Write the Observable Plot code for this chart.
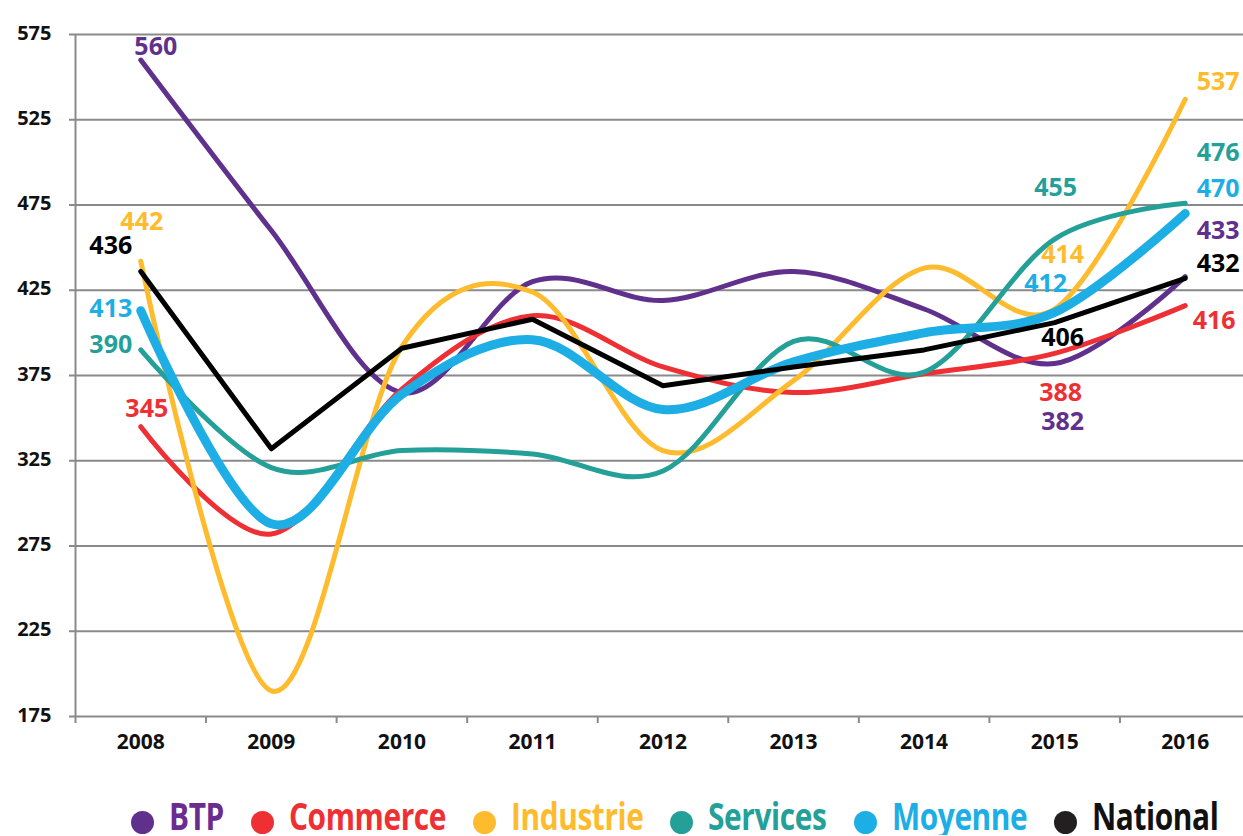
<!DOCTYPE html>
<html>
<head>
<meta charset="utf-8">
<script src="https://cdn.jsdelivr.net/npm/d3@7"></script>
<script src="https://cdn.jsdelivr.net/npm/@observablehq/plot@0.6"></script>
<style>
  html, body { margin: 0; padding: 0; background: #fff; overflow: hidden; }
  #chart svg { display: block; }
  #legend { display: flex; align-items: center; height: 40px; margin-top: 15px; padding-left: 131px;
            font-family: "Open Sans", sans-serif; font-weight: 700; font-size: 38px; line-height: 40px; }
  #legend .item { display: flex; align-items: center; margin-right: 27px; }
  #legend .dot { width: 23px; height: 23px; border-radius: 50%; margin-right: 15px; flex: none; position: relative; top: 7px; }
  #legend .txt { display: inline-block; white-space: nowrap; transform-origin: left center; letter-spacing: -0.5px; line-height: 30px; }
</style>
</head>
<body>
<div id="chart"></div>
<div id="legend"></div>
<script>
const years = [2008, 2009, 2010, 2011, 2012, 2013, 2014, 2015, 2016];
const btp       = [560, 460, 365, 430, 419, 436, 414, 382, 433];
const commerce  = [345, 282, 367, 410, 380, 365, 376, 388, 416];
const industrie = [442, 190, 392, 424, 331, 372, 438, 414, 537];
const services  = [390, 321, 331, 329, 319, 395, 377, 455, 476];
const moyenne   = [413, 288, 364, 396, 355, 383, 400, 412, 470];
const national  = [436, 332, 391, 408, 369, 380, 390, 406, 432];
const seriesNames = ["BTP", "Commerce", "Industrie", "Services", "Moyenne", "National"];
const yTicks = [175, 225, 275, 325, 375, 425, 475, 525, 575];
const labelledYears = [2008, 2015, 2016];

// styles
const colors = {BTP: "#5f308c", Commerce: "#ee2f34", Industrie: "#fdbb2d", Services: "#24a099", Moyenne: "#1caee4", National: "#000000"};
const widths = {BTP: 5, Commerce: 5, Industrie: 5, Services: 5, Moyenne: 9, National: 5};
const labelOffsets = {
  "BTP-2008": [15, -13], "Industrie-2008": [1, -39], "National-2008": [-30, -25],
  "Moyenne-2008": [-30, -2], "Services-2008": [-30, -5], "Commerce-2008": [6, -18],
  "Services-2015": [1, -51], "Industrie-2015": [8, -54], "Moyenne-2015": [-9, -28],
  "National-2015": [8, 15], "Commerce-2015": [6, 40], "BTP-2015": [8, 58],
  "Industrie-2016": [33, -17], "Services-2016": [33, -50], "Moyenne-2016": [33, -25],
  "BTP-2016": [33, -46], "National-2016": [33, -14], "Commerce-2016": [29, 15]
};
const legendCondense = 0.785;

const valuesBySeries = {BTP: btp, Commerce: commerce, Industrie: industrie, Services: services, Moyenne: moyenne, National: national};
const rows = seriesNames.flatMap(s => valuesBySeries[s].map((v, j) => ({series: s, year: years[j], value: v})));
const boundaries = [...years.map(y => y - 0.5), years[years.length - 1] + 0.5];

const gray = "#8a8a8a";
const marks = [
  Plot.ruleY(yTicks, {y: d => d, stroke: gray, strokeWidth: 2, insetLeft: -6}),
  Plot.ruleX([boundaries[0]], {x: d => d, y1: 175, y2: 575, stroke: gray, strokeWidth: 2}),
  Plot.axisX({ticks: boundaries, tickSize: 7, tickFormat: () => "", label: null, stroke: gray, strokeWidth: 2}),
  Plot.text(years, {x: d => d, frameAnchor: "bottom", dy: 32, text: d => String(d), fontSize: 21, fontWeight: 700, fill: "#111"}),
  Plot.text(yTicks, {y: d => d, frameAnchor: "left", dx: -24, textAnchor: "end", lineAnchor: "bottom", dy: 5, text: d => String(d), fontSize: 20, fontWeight: 700, fill: "#111"})
];
for (const s of seriesNames) {
  marks.push(Plot.line(rows.filter(r => r.series === s), {
    x: "year", y: "value", stroke: colors[s], strokeWidth: widths[s],
    curve: s === "National" ? "linear" : "cardinal", tension: 0,
    strokeLinecap: "round", strokeLinejoin: "round"
  }));
}
for (const r of rows) {
  if (!labelledYears.includes(r.year)) continue;
  const [dx, dy] = labelOffsets[r.series + "-" + r.year];
  marks.push(Plot.text([r], {x: "year", y: "value", text: d => String(d.value), dx, dy,
    fill: colors[r.series], fontSize: 25, fontWeight: 700}));
}

const chart = Plot.plot({
  width: 1243, height: 780,
  marginTop: 34, marginBottom: 64, marginLeft: 75, marginRight: 0,
  style: {fontFamily: "'Open Sans', sans-serif", background: "#fff", overflow: "visible"},
  x: {type: "linear", domain: [boundaries[0], boundaries[boundaries.length - 1]], range: [75, 1250], axis: null},
  y: {domain: [175, 575], axis: null},
  marks
});
document.getElementById("chart").appendChild(chart);

const legend = document.getElementById("legend");
for (const s of seriesNames) {
  const item = document.createElement("div");
  item.className = "item";
  const dot = document.createElement("span");
  dot.className = "dot";
  dot.style.background = s === "National" ? "#231f20" : colors[s];
  const label = document.createElement("span");
  label.className = "txt";
  label.textContent = s;
  label.style.color = s === "BTP" ? "#6a2c91" : s === "National" ? "#111" : colors[s];
  item.appendChild(dot);
  item.appendChild(label);
  legend.appendChild(item);
  const w = label.getBoundingClientRect().width;
  label.style.width = (w * legendCondense) + "px";
  label.style.transform = `scaleX(${legendCondense})`;
}
</script>
</body>
</html>
